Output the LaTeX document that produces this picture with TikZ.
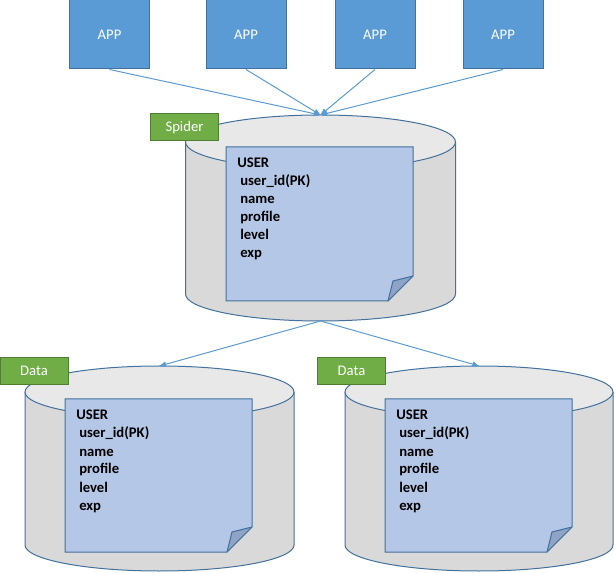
\documentclass[tikz,border=0pt]{standalone}
\usepackage{fontspec}
\setmainfont{Carlito}
\usetikzlibrary{arrows.meta}
\definecolor{appblue}{HTML}{5B9BD5}
\definecolor{appedge}{HTML}{41719C}
\definecolor{grn}{HTML}{70AD47}
\definecolor{grnedge}{HTML}{507E32}
\definecolor{cyltop}{HTML}{E8E8E8}
\definecolor{cylbody}{HTML}{D9D9D9}
\definecolor{notefill}{HTML}{B4C7E7}
\definecolor{foldfill}{HTML}{8FA3C7}
\definecolor{connc}{HTML}{5B9BD5}
\tikzset{
  appbox/.style={draw=appedge, fill=appblue, line width=0.75pt, minimum width=60pt, minimum height=51.75pt, inner sep=0pt, text=white, font=\fontsize{11}{13}\selectfont},
  tagbox/.style={draw=grnedge, fill=grn, line width=0.75pt, minimum width=51pt, minimum height=20.25pt, inner sep=0pt, text=white, font=\fontsize{11}{13}\selectfont},
  cylline/.style={draw=appedge, line width=0.75pt},
  noteline/.style={draw=appedge, line width=0.75pt},
  rowtext/.style={inner sep=0pt, anchor=base west, font=\fontsize{11}{13}\selectfont\bfseries},
  conn/.style={draw=connc, line width=0.75pt, -{Triangle[length=5pt,width=4pt]}}
}
\newcommand{\dbcyl}[6]{%
  \pgfmathsetmacro\cta{#3+#6}%
  \pgfmathsetmacro\cba{#4-#6}%
  \fill[cylbody] (#2-#5,\cta) -- (#2-#5,\cba) arc[start angle=180,end angle=360,x radius=#5*0.75pt,y radius=#6*0.75pt] -- (#2+#5,\cta) arc[start angle=0,end angle=180,x radius=#5*0.75pt,y radius=#6*0.75pt] -- cycle;
  \draw[cylline] (#2-#5,\cta) -- (#2-#5,\cba) arc[start angle=180,end angle=360,x radius=#5*0.75pt,y radius=#6*0.75pt] -- (#2+#5,\cta);
  \draw[cylline, fill=cyltop] (#2,\cta) ellipse [x radius=#5*0.75pt, y radius=#6*0.75pt];
  \coordinate (#1top) at (#2,#3);
  \coordinate (#1bot) at (#2,#4);
}
\newcommand{\usernote}[5]{%
  \draw[noteline, fill=notefill] (#2,#3) -- (#4,#3) -- (#4,#5-25) -- (#4-25,#5) -- (#2,#5) -- cycle;
  \draw[noteline, fill=foldfill, line join=round] (#4,#5-25) -- (#4-20,#5-20) -- (#4-25,#5) -- cycle;
  \node[rowtext] (#1-h) at (#2+11,#3+21) {USER};
  \foreach \t [count=\i] in {user\_id(PK),name,profile,level,exp}
    \node[rowtext] (#1-\i) at (#2+14,#3+21+18*\i) {\t};
}
\begin{document}
\begin{tikzpicture}[x=0.75pt,y=-0.75pt]
\useasboundingbox (0,0) rectangle (614,573);
% APP boxes
\node[appbox] (app1) at (109.5,34.5) {APP};
\node[appbox] (app2) at (246,34.5) {APP};
\node[appbox] (app3) at (375,34.5) {APP};
\node[appbox] (app4) at (503,34.5) {APP};
% cylinders
\dbcyl{spider}{320.5}{115}{321}{135}{27}
\dbcyl{dataL}{159.5}{366}{571}{134.5}{26}
\dbcyl{dataR}{479}{366}{571}{134}{26}
% notes
\usernote{nS}{226}{147}{413}{301}
\usernote{nL}{65}{399}{252}{552}
\usernote{nR}{385}{399}{572}{552}
% tags
\node[tagbox] (tagS) at (184.5,127.5) {Spider};
\node[tagbox] (tagL) at (34,371) {Data};
\node[tagbox] (tagR) at (351.5,371) {Data};
% connectors
\draw[conn] (app1.south) -- (spidertop);
\draw[conn] (app2.south) -- (spidertop);
\draw[conn] (app3.south) -- (spidertop);
\draw[conn] (app4.south) -- (spidertop);
\draw[conn] (spiderbot) -- (dataLtop);
\draw[conn] (spiderbot) -- (dataRtop);
\end{tikzpicture}
\end{document}
